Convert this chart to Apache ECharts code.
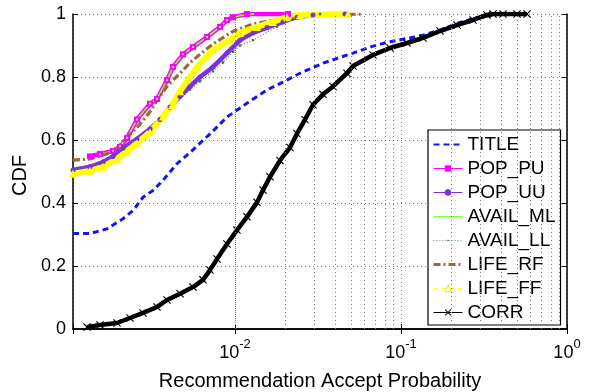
<!DOCTYPE html>
<html>
<head>
<meta charset="utf-8">
<script src="https://cdn.jsdelivr.net/npm/echarts@6/dist/echarts.min.js"></script>
<style>
  html, body { margin: 0; padding: 0; background: #fff; }
  #chart { width: 590px; height: 392px; }
</style>
</head>
<body>
<div id="chart"></div>
<script>
// [x, cdf] pairs (x is the accept probability, log axis)
const titleData = [
  [0.001057, 0.303], [0.001338, 0.303], [0.001694, 0.318], [0.002115, 0.350], [0.002429, 0.376],
  [0.002791, 0.418], [0.003206, 0.440], [0.003684, 0.472], [0.004475, 0.525], [0.005359, 0.560],
  [0.006154, 0.590], [0.007268, 0.625], [0.008949, 0.673], [0.01181, 0.717], [0.01559, 0.759],
  [0.01946, 0.784], [0.02464, 0.812], [0.03389, 0.844], [0.05139, 0.876], [0.06782, 0.898],
  [0.08585, 0.912], [0.1302, 0.930], [0.1791, 0.952], [0.2175, 0.970], [0.2715, 0.985],
  [0.3584, 0.997], [0.3950, 1.0]
];
const popPuData = [
  [0.001338, 0.548], [0.001537, 0.556], [0.001841, 0.565], [0.002029, 0.578], [0.002236, 0.606],
  [0.002568, 0.665], [0.003076, 0.715], [0.003390, 0.730], [0.003895, 0.790], [0.004233, 0.832],
  [0.004863, 0.872], [0.005585, 0.895], [0.006781, 0.927], [0.008121, 0.959], [0.008949, 0.981],
  [0.009727, 0.990], [0.01181, 1.0], [0.02086, 1.0]
];
const popUuData = [
  [0.001057, 0.505], [0.001338, 0.515], [0.001602, 0.530], [0.001841, 0.548], [0.002115, 0.575],
  [0.002568, 0.603], [0.003076, 0.635], [0.003534, 0.665], [0.004060, 0.705], [0.004665, 0.738],
  [0.005359, 0.770], [0.006154, 0.800], [0.007370, 0.832], [0.008949, 0.876], [0.01072, 0.917],
  [0.01284, 0.940], [0.01559, 0.957], [0.01946, 0.975], [0.02363, 0.990], [0.02951, 0.997],
  [0.04600, 1.0]
];
const availMlData = [
  [0.001537, 0.555], [0.001841, 0.566], [0.002029, 0.580], [0.002236, 0.607], [0.002568, 0.665],
  [0.003076, 0.716], [0.003390, 0.731], [0.003895, 0.790], [0.004233, 0.832], [0.004863, 0.872],
  [0.005585, 0.895], [0.006781, 0.927], [0.008121, 0.959], [0.008949, 0.980], [0.01072, 0.995],
  [0.01284, 1.0]
];
const availLlData = [
  [0.001057, 0.505], [0.001537, 0.525], [0.002115, 0.575], [0.003076, 0.632], [0.004060, 0.700],
  [0.005359, 0.760], [0.006154, 0.786], [0.007370, 0.818], [0.008466, 0.846], [0.009727, 0.880],
  [0.01072, 0.900], [0.01284, 0.917], [0.01791, 0.960], [0.02236, 0.985], [0.03251, 1.0]
];
const lifeRfData = [
  [0.001057, 0.536], [0.001338, 0.540], [0.001694, 0.556], [0.001947, 0.575], [0.002331, 0.618],
  [0.002677, 0.650], [0.003076, 0.690], [0.003390, 0.725], [0.003895, 0.770], [0.004665, 0.812],
  [0.005359, 0.845], [0.006154, 0.872], [0.007370, 0.905], [0.009727, 0.945], [0.01284, 0.968],
  [0.01694, 0.980], [0.02057, 0.990], [0.02464, 0.995], [0.05904, 1.0]
];
const lifeFfData = [
  [0.001057, 0.493], [0.001338, 0.502], [0.001602, 0.515], [0.001947, 0.540], [0.002236, 0.565],
  [0.002568, 0.590], [0.003076, 0.625], [0.003684, 0.675], [0.004174, 0.710], [0.004665, 0.755],
  [0.005904, 0.832], [0.007370, 0.886], [0.009330, 0.917], [0.01072, 0.940], [0.01357, 0.959],
  [0.01694, 0.975], [0.02057, 0.990], [0.02464, 0.997], [0.04794, 1.0]
];
const corrData = [
  [0.001284, 0.006], [0.001537, 0.013], [0.001947, 0.019], [0.002331, 0.035], [0.002791, 0.051],
  [0.003390, 0.070], [0.003895, 0.092], [0.004665, 0.112], [0.005585, 0.133], [0.006415, 0.156],
  [0.007069, 0.187], [0.007791, 0.222], [0.008949, 0.270], [0.01028, 0.314], [0.01181, 0.356],
  [0.01357, 0.402], [0.01475, 0.441], [0.01625, 0.483], [0.01867, 0.535], [0.02144, 0.576],
  [0.02363, 0.620], [0.02640, 0.665], [0.02951, 0.712], [0.03389, 0.745], [0.03895, 0.770],
  [0.04728, 0.812], [0.05139, 0.835], [0.06782, 0.870], [0.08585, 0.892], [0.1087, 0.908],
  [0.1357, 0.924], [0.1718, 0.946], [0.2175, 0.965], [0.2715, 0.981], [0.3298, 0.997],
  [0.3584, 1.0], [0.4117, 1.0], [0.4998, 1.0], [0.5741, 1.0]
];

const xMin = 0.001057;
const xMax = 1;
// dotted minor grid of the log axis (2..9 in every decade)
const minorGridX = [
  0.002, 0.003, 0.004, 0.005, 0.006, 0.007, 0.008, 0.009,
  0.02, 0.03, 0.04, 0.05, 0.06, 0.07, 0.08, 0.09,
  0.2, 0.3, 0.4, 0.5, 0.6, 0.7, 0.8, 0.9
];

const FONT = 'Liberation Sans, Arial, Helvetica, sans-serif';
const crossPath = 'path://M0,1L1,0L5,4L9,0L10,1L6,5L10,9L9,10L5,6L1,10L0,9L4,5Z';
// small dot centred in a wide empty box, so the legend marker stays tiny
const dotPath = 'path://M0,0L0.01,0M4,4L6,4L6,6L4,6ZM10,10L10.01,10';
const gridDots = { color: '#7a7a7a', width: 1, type: [1, 3] };

const chart = echarts.init(document.getElementById('chart'), null, { renderer: 'canvas' });

const base = { type: 'line', animation: false, emphasis: { disabled: true }, z: 3 };

const series = [
  // minor vertical grid, drawn through the log scale
  {
    type: 'line', data: [], silent: true, animation: false, z: 1,
    markLine: {
      silent: true, symbol: 'none', animation: false,
      label: { show: false },
      lineStyle: gridDots,
      data: minorGridX.map(v => ({ xAxis: v }))
    }
  },
  Object.assign({}, base, {
    name: 'TITLE', data: titleData, symbol: 'none',
    lineStyle: { color: '#1414f0', width: 3, type: [6, 4] }, itemStyle: { color: '#1414f0' }
  }),
  Object.assign({}, base, {
    name: 'POP_PU', data: popPuData, symbol: 'rect', symbolSize: 6,
    lineStyle: { color: '#ff00ff', width: 4.5 }, itemStyle: { color: '#ff00ff' }
  }),
  Object.assign({}, base, {
    name: 'POP_UU', data: popUuData, symbol: 'circle', symbolSize: 5,
    lineStyle: { color: '#7a2fe0', width: 4.5 }, itemStyle: { color: '#7a2fe0' }
  }),
  Object.assign({}, base, {
    name: 'AVAIL_ML', data: availMlData, symbol: dotPath, symbolSize: 10,
    lineStyle: { color: '#7cff2a', width: 1.6 }, itemStyle: { color: '#7cff2a' }
  }),
  Object.assign({}, base, {
    name: 'AVAIL_LL', data: availLlData, symbol: dotPath, symbolSize: 12,
    lineStyle: { color: '#5a8a5a', width: 1.2, type: [1, 2] }, itemStyle: { color: '#3f6f3f' }
  }),
  Object.assign({}, base, {
    name: 'LIFE_RF', data: lifeRfData, symbol: 'none',
    lineStyle: { color: '#9a6a30', width: 3.2, type: [7, 3, 2, 3] }, itemStyle: { color: '#9a6a30' }
  }),
  Object.assign({}, base, {
    name: 'LIFE_FF', data: lifeFfData, symbol: 'triangle', symbolSize: 8,
    lineStyle: { color: '#ffff00', width: 6 }, itemStyle: { color: '#ffff00' }
  }),
  Object.assign({}, base, {
    name: 'CORR', data: corrData, symbol: crossPath, symbolSize: 8,
    lineStyle: { color: '#000', width: 4.5 }, itemStyle: { color: '#000' }
  })
];

const legendData = [
  { name: 'TITLE', itemStyle: { opacity: 0 } },
  { name: 'POP_PU', lineStyle: { width: 1 } },
  { name: 'POP_UU', lineStyle: { width: 1 } },
  { name: 'AVAIL_ML', lineStyle: { width: 1 } },
  { name: 'AVAIL_LL', lineStyle: { width: 1.2 } },
  { name: 'LIFE_RF', lineStyle: { width: 3 }, itemStyle: { opacity: 0 } },
  { name: 'LIFE_FF', lineStyle: { width: 1, type: [4, 4] },
    itemStyle: { color: '#fff', borderColor: '#e8e800', borderWidth: 1 } },
  { name: 'CORR', lineStyle: { width: 1 } }
];

const supLabel = v => {
  const e = Math.round(Math.log10(v));
  if (Math.abs(Math.log10(v) - e) > 1e-6) return '';
  return '{b|10}{s|' + e + '}';
};

const option = {
  backgroundColor: '#fff',
  textStyle: { fontFamily: FONT },
  grid: { left: 73, right: 23, top: 14, bottom: 63, containLabel: false, outerBoundsMode: 'none' },
  legend: {
    orient: 'vertical', left: 428, top: 130,
    data: legendData,
    itemWidth: 29, itemHeight: 8, itemGap: 5,
    padding: [5, 5, 3, 4],
    backgroundColor: '#fff', borderColor: '#000', borderWidth: 1.2, borderRadius: 0,
    textStyle: { fontFamily: FONT, fontSize: 19, color: '#000' },
    selectedMode: false
  },
  xAxis: [
    {
      type: 'log', logBase: 10, min: xMin, max: xMax,
      name: 'Recommendation Accept Probability', nameLocation: 'middle', nameGap: 42,
      nameTextStyle: { fontFamily: FONT, fontSize: 20, color: '#000' },
      axisLine: { show: true, lineStyle: { color: '#000', width: 1.5 } },
      axisTick: { show: true, inside: true, length: 5, lineStyle: { color: '#000' } },
      axisLabel: {
        formatter: supLabel, margin: 9, showMinLabel: true,
        rich: {
          b: { fontFamily: FONT, fontSize: 18, color: '#000', lineHeight: 30 },
          s: { fontFamily: FONT, fontSize: 13, color: '#000', lineHeight: 12, verticalAlign: 'top' }
        }
      },
      splitLine: { show: true, lineStyle: gridDots }
    },
    {
      type: 'log', logBase: 10, min: xMin, max: xMax, position: 'top',
      axisLine: { show: true, lineStyle: { color: '#000', width: 1.5 } },
      axisTick: { show: true, inside: true, length: 5, lineStyle: { color: '#000' } },
      axisLabel: { show: false },
      splitLine: { show: false }
    }
  ],
  yAxis: [
    {
      type: 'value', min: 0, max: 1, interval: 0.2,
      name: 'CDF', nameLocation: 'middle', nameGap: 35,
      nameTextStyle: { fontFamily: FONT, fontSize: 20, color: '#000', padding: [0, 8, 0, 0] },
      axisLine: { show: true, lineStyle: { color: '#000', width: 1.5 } },
      axisTick: { show: true, inside: true, length: 5, lineStyle: { color: '#000' } },
      axisLabel: { fontFamily: FONT, fontSize: 18, color: '#000', margin: 7 },
      splitLine: { show: true, lineStyle: gridDots }
    },
    {
      type: 'value', min: 0, max: 1, interval: 0.2, position: 'right',
      axisLine: { show: true, lineStyle: { color: '#000', width: 1.5 } },
      axisTick: { show: true, inside: true, length: 5, lineStyle: { color: '#000' } },
      axisLabel: { show: false },
      splitLine: { show: false }
    }
  ],
  series: series
};

chart.setOption(option);
</script>
</body>
</html>
